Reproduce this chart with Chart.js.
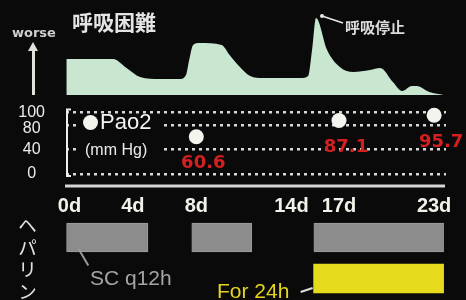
<!DOCTYPE html>
<html>
<head>
<meta charset="utf-8">
<script src="https://cdn.jsdelivr.net/npm/chart.js@4.4.1/dist/chart.umd.min.js"></script>
<style>
  body { margin: 0; background: #0a0a0a; }
  #wrap { position: relative; width: 466px; height: 300px; overflow: hidden; background: #0a0a0a;
          font-family: "Liberation Sans", Arial, sans-serif; }
  canvas { position: absolute; left: 0; }
  .txt { position: absolute; white-space: nowrap; line-height: 1; }
  .jp { font-family: "Noto Sans CJK JP", sans-serif; font-weight: bold; }
</style>
</head>
<body>
<div id="wrap">
  <canvas id="dyspnea" width="466" height="100" style="top:0"></canvas>
  <canvas id="heparin" width="466" height="85" style="top:215px"></canvas>
  <canvas id="pao2" width="466" height="143" style="top:82px"></canvas>

  <div class="txt" style="left:12px;top:25px;font:bold 13px 'DejaVu Sans';color:#cfcfcf">worse</div>
  <div style="position:absolute;left:32px;top:50px;width:3px;height:45px;background:#e2e2dc"></div>
  <div style="position:absolute;left:28px;top:42px;width:0;height:0;border-left:5.5px solid transparent;border-right:5.5px solid transparent;border-bottom:9px solid #e2e2dc"></div>
  <div class="txt jp" style="left:72px;top:11px;font-size:21px;color:#e4e4e4">呼吸困難</div>
  <div class="txt jp" style="left:345px;top:19px;font-size:15px;color:#dcdcdc">呼吸停止</div>

  <div style="position:absolute;left:76px;top:114px;width:84px;height:45px;background:#0a0a0a"></div>
  <div style="position:absolute;left:82.5px;top:114.5px;width:15px;height:15px;border-radius:50%;background:#f4f4ee"></div>
  <div class="txt" style="left:100px;top:111px;font-size:22px;color:#f4f4f4">Pao2</div>
  <div class="txt" style="left:85px;top:142px;font-size:16px;color:#ececec">(mm Hg)</div>

  <div class="txt jp" style="left:18px;top:216px;font-size:19px;font-weight:normal;color:#e0e0e0;writing-mode:vertical-rl;text-orientation:upright;letter-spacing:3px">ヘパリン</div>
  <div class="txt" style="left:90px;top:267px;font-size:21px;color:#a5a5a5">SC q12h</div>
  <div class="txt" style="left:217px;top:280px;font-size:21px;color:#e6d51e">For 24h</div>
</div>

<script>
// days since onset
var xMin = -0.22;
var xMax = 23.75;
var dayTicks = [0, 4, 8, 14, 17, 23];

// dyspnea severity, higher = worse (arbitrary units)
var dyspneaDays = [-0.2, 2.75, 3.6, 4.45, 5.7, 6.95, 7.35, 7.55, 7.8, 8.2, 9.6, 10.1, 10.75, 11.4, 12.2,
                   14.6, 15.05, 15.3, 15.55, 16.25, 17.05, 17.9, 18.95, 19.6, 20.4, 20.98, 21.6, 21.9, 22.7, 23.6];
var dyspneaLevel = [36, 36, 27, 18, 16, 16, 20, 35, 50, 52, 50, 40, 28, 19, 17,
                    17, 19, 45, 77, 45, 28, 23, 25, 27, 13, 4, 9, 9, 3, 0];

// PaO2 (mm Hg)
var pao2Days = [8, 17, 23];
var pao2Values = [60.6, 87.1, 95.7];
var pao2Ticks = [0, 40, 80, 100];

// heparin
var hepRows = ["SC q12h", "For 24h"];
var scSpans = [[-0.2, 4.95], [7.7, 11.5], [15.4, 23.6]];
var ivSpans = [[15.4, 23.6]];

Chart.defaults.font.family = "'Liberation Sans', Arial, sans-serif";
Chart.defaults.animation = false;
Chart.defaults.plugins.legend.display = false;
Chart.defaults.plugins.tooltip.enabled = false;

function xScale(show) {
  return {
    type: "linear",
    min: xMin,
    max: xMax,
    display: show,
    grid: { display: false },
    border: { display: false }
  };
}

// pointer from the apnea spike to its caption
var apneaPointer = {
  id: "apneaPointer",
  afterDatasetsDraw: function (chart) {
    var pts = chart.getDatasetMeta(0).data;
    var top = 0;
    for (var i = 1; i < dyspneaLevel.length; i++) {
      if (dyspneaLevel[i] > dyspneaLevel[top]) top = i;
    }
    var p = pts[top];
    var ctx = chart.ctx;
    ctx.save();
    ctx.strokeStyle = "#e8e8e8";
    ctx.fillStyle = "#e8e8e8";
    ctx.lineWidth = 1.5;
    ctx.beginPath();
    ctx.moveTo(p.x + 6, p.y - 2);
    ctx.lineTo(p.x + 27, p.y + 5);
    ctx.stroke();
    ctx.beginPath();
    ctx.arc(p.x + 6, p.y - 2, 2, 0, Math.PI * 2);
    ctx.fill();
    ctx.restore();
  }
};

new Chart(document.getElementById("dyspnea"), {
  type: "line",
  data: {
    datasets: [{
      data: dyspneaDays.map(function (d, i) { return { x: d, y: dyspneaLevel[i] }; }),
      fill: "origin",
      backgroundColor: "#c9e6d1",
      borderWidth: 0,
      pointRadius: 0,
      cubicInterpolationMode: "monotone"
    }]
  },
  options: {
    responsive: false,
    layout: { padding: { left: 66, right: 20, top: 15, bottom: 5 } },
    scales: {
      x: xScale(false),
      y: { min: 0, max: 80, display: false }
    }
  },
  plugins: [apneaPointer]
});

// bracket, separator and red value labels
var pao2Deco = {
  id: "pao2Deco",
  beforeDatasetsDraw: function (chart) {
    var ctx = chart.ctx;
    var y = chart.scales.y;
    var area = chart.chartArea;
    var t = y.getPixelForValue(100) - 3;
    var b = y.getPixelForValue(0) + 2;
    ctx.save();
    ctx.strokeStyle = "#eeeeee";
    ctx.lineWidth = 2;
    ctx.beginPath();
    ctx.moveTo(area.left + 5, t);
    ctx.lineTo(area.left + 1, t);
    ctx.lineTo(area.left + 1, b);
    ctx.lineTo(area.left + 5, b);
    ctx.stroke();
    ctx.strokeStyle = "#d6d6d6";
    ctx.lineWidth = 3;
    ctx.beginPath();
    ctx.moveTo(area.left - 1, area.bottom + 12);
    ctx.lineTo(area.right - 1, area.bottom + 12);
    ctx.stroke();
    ctx.restore();
  },
  afterDatasetsDraw: function (chart) {
    var ctx = chart.ctx;
    var pts = chart.getDatasetMeta(0).data;
    ctx.save();
    ctx.font = "bold 18px 'DejaVu Sans'";
    ctx.fillStyle = "#d42020";
    ctx.textAlign = "center";
    ctx.textBaseline = "middle";
    pts.forEach(function (p, i) {
      ctx.fillText(pao2Values[i].toFixed(1), p.x + 7, p.y + 27);
    });
    ctx.restore();
  }
};

var pao2X = xScale(true);
pao2X.afterBuildTicks = function (axis) {
  axis.ticks = dayTicks.map(function (v) { return { value: v }; });
};
pao2X.afterFit = function (axis) { axis.height = 51; };
pao2X.ticks = {
  color: "#f2f2ea",
  padding: 12,
  autoSkip: false,
  font: { size: 20, weight: "bold" },
  maxRotation: 0,
  callback: function (v) { return v + "d"; }
};

new Chart(document.getElementById("pao2"), {
  type: "scatter",
  data: {
    datasets: [{
      label: "Pao2",
      data: pao2Days.map(function (d, i) { return { x: d, y: pao2Values[i] }; }),
      pointRadius: 7.5,
      pointBackgroundColor: "#f4f4ee",
      pointBorderWidth: 0,
      clip: false
    }]
  },
  options: {
    responsive: false,
    layout: { padding: { left: 0, right: 20, top: 0, bottom: 0 } },
    scales: {
      x: pao2X,
      y: {
        min: 0,
        max: 100,
        afterBuildTicks: function (axis) {
          axis.ticks = pao2Ticks.map(function (v) { return { value: v }; });
        },
        afterFit: function (axis) { axis.width = 66; },
        grid: { color: "#d8d8d8", lineWidth: 2.5, drawTicks: false },
        border: { display: false, dash: [3, 4] },
        ticks: {
          color: "#ececec",
          padding: 21,
          autoSkip: false,
          crossAlign: "center",
          // push "80" a little down so it clears "100"
          callback: function (v) { return v === 80 ? ["", "80"] : String(v); },
          font: function (c) {
            return c.tick && c.tick.value === 80 ? { size: 16, lineHeight: 0.45 } : { size: 16 };
          }
        }
      }
    }
  },
  plugins: [pao2Deco]
});

// pointers from the bars to their captions
var hepPointers = {
  id: "hepPointers",
  afterDatasetsDraw: function (chart) {
    var ctx = chart.ctx;
    var sc = chart.getDatasetMeta(0).data[0];
    var iv = chart.getDatasetMeta(scSpans.length).data[1];
    ctx.save();
    ctx.lineWidth = 2;
    ctx.strokeStyle = "#9a9a9a";
    ctx.beginPath();
    ctx.moveTo(sc.base + 12, sc.y + 11);
    ctx.lineTo(sc.base + 22, sc.y + 28);
    ctx.stroke();
    ctx.strokeStyle = "#dddddd";
    ctx.beginPath();
    ctx.moveTo(iv.base - 1, iv.y + 9.5);
    ctx.lineTo(iv.base - 13, iv.y + 13.5);
    ctx.stroke();
    ctx.restore();
  }
};

var hepSets = [];
scSpans.forEach(function (s) {
  hepSets.push({ data: [s, null], backgroundColor: "#8c8c8c", borderColor: "#9c9c9c", borderWidth: 1, grouped: false, barThickness: 29 });
});
ivSpans.forEach(function (s) {
  hepSets.push({ data: [null, s], backgroundColor: "#e6da1c", borderWidth: 0, grouped: false, barThickness: 29 });
});

new Chart(document.getElementById("heparin"), {
  type: "bar",
  data: { labels: hepRows, datasets: hepSets },
  options: {
    responsive: false,
    indexAxis: "y",
    layout: { padding: { left: 66, right: 20, top: 2, bottom: 1 } },
    scales: {
      x: xScale(false),
      y: { type: "category", display: false }
    }
  },
  plugins: [hepPointers]
});
</script>
</body>
</html>
